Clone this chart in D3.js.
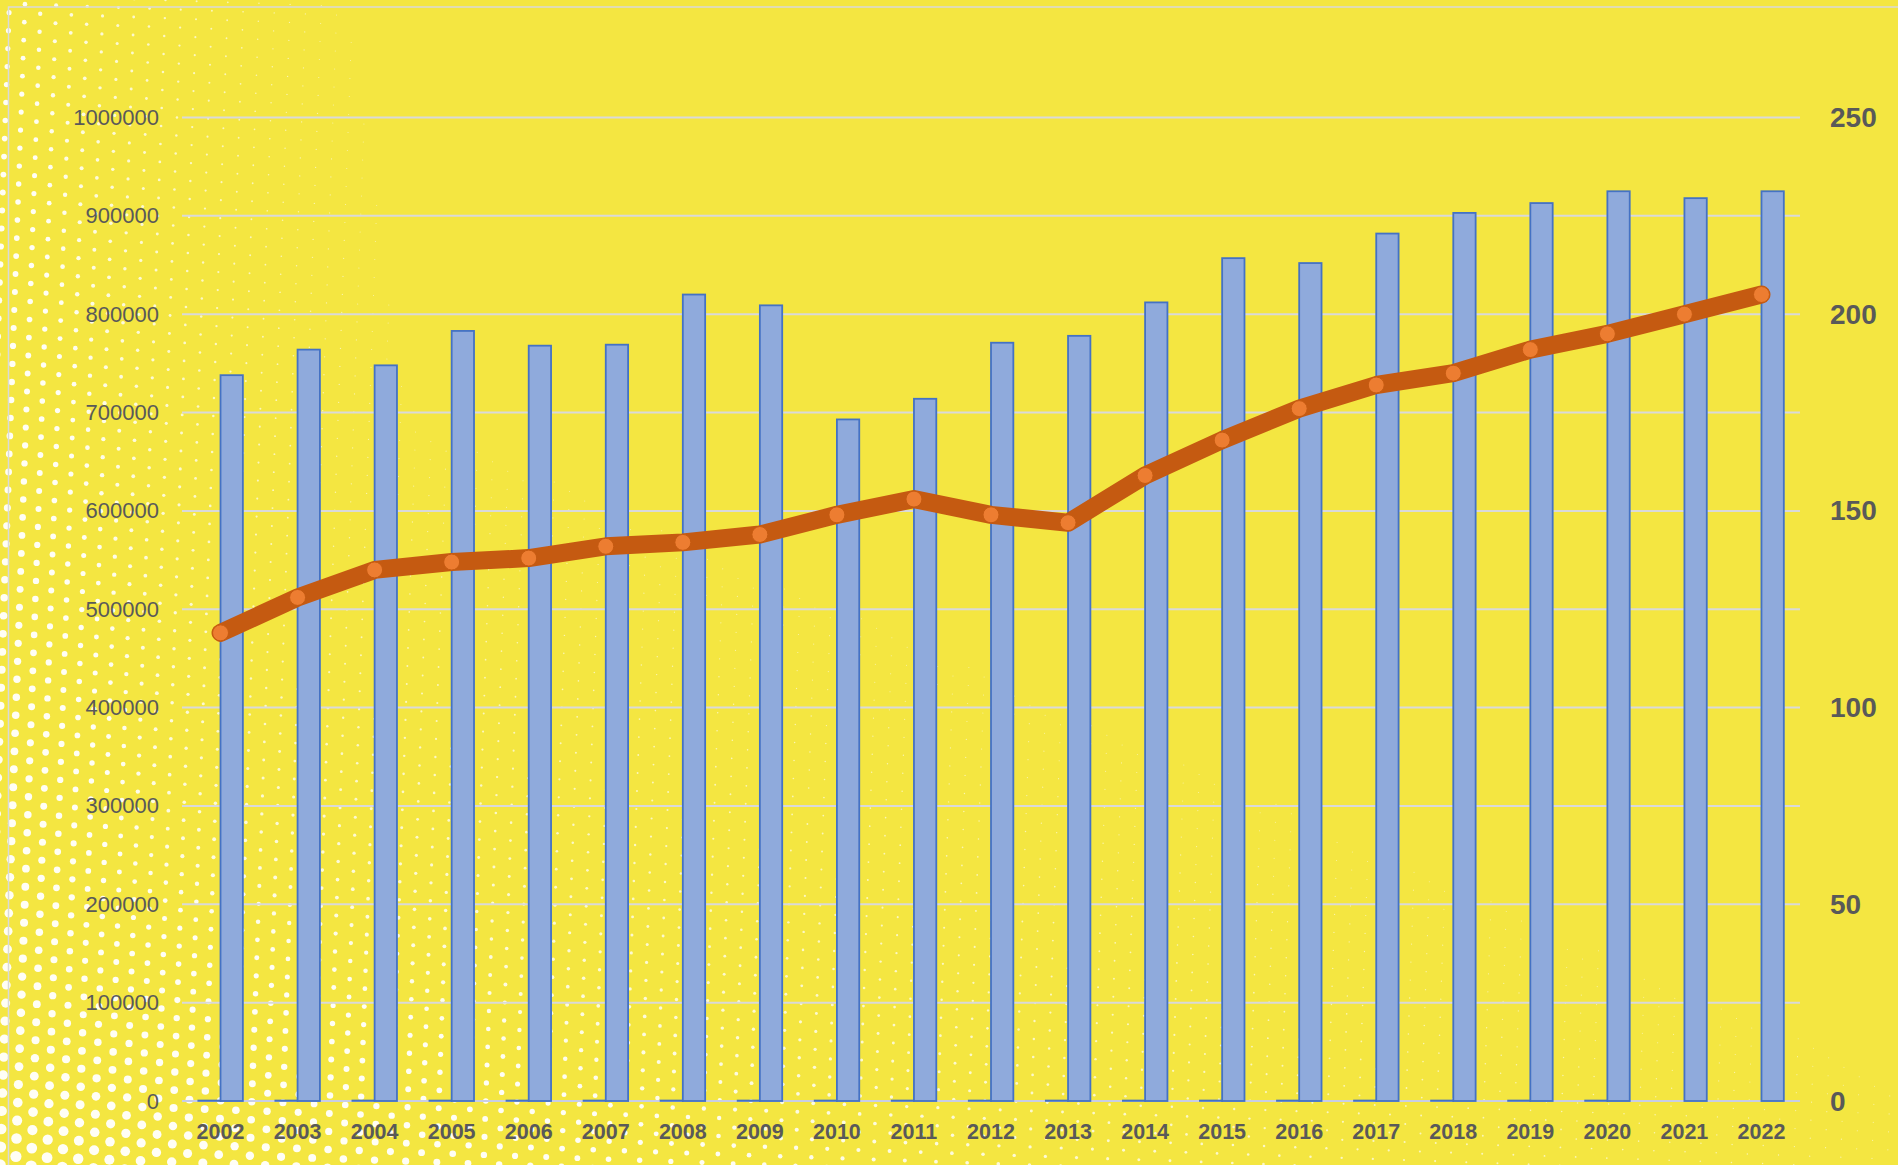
<!DOCTYPE html>
<html>
<head>
<meta charset="utf-8">
<script src="https://cdn.jsdelivr.net/npm/d3@7"></script>
<style>
  html, body { margin: 0; padding: 0; background: #f4e641; overflow: hidden; }
  text { font-family: 'Liberation Sans', Arial, sans-serif; fill: #595959; }
</style>
</head>
<body>
<svg id="viz"></svg>
<script>
const width = 1898
const height = 1165

// data
const years = ['2002', '2003', '2004', '2005', '2006', '2007', '2008', '2009', '2010', '2011',
  '2012', '2013', '2014', '2015', '2016', '2017', '2018', '2019', '2020', '2021', '2022']
const mainValues = [738000, 764000, 748000, 783000, 768000, 769000, 820000, 809000, 693000, 714000,
  771000, 778000, 812000, 857000, 852000, 882000, 903000, 913000, 925000, 918000, 925000]
// second column series, almost zero (just a line on the baseline)
const smallValues = [600, 600, 600, 600, 600, 600, 600, 600, 600, 600,
  600, 600, 600, 600, 600, 600, 600, 600, 600, null, null]
const lineValues = [119, 128, 135, 137, 138, 141, 142, 144, 149, 153,
  149, 147, 159, 168, 176, 182, 185, 191, 195, 200, 205]
const leftTicks = [0, 100000, 200000, 300000, 400000, 500000, 600000, 700000, 800000, 900000, 1000000]
const rightTicks = [0, 50, 100, 150, 200, 250]

const margin = { top: 117.5, left: 182, right: 98, bottom: 64 }

const svg = d3.select('#viz').attr('width', width).attr('height', height)

// halftone dot background (decoration only), rotated hex grid
const dots = svg.append('g').attr('class', 'dots')
const step = 18
const rowH = step * 0.866
const ang = (28 * Math.PI) / 180
const dotData = []
for (let j = -80; j < 100; j++) {
  for (let i = -80; i < 160; i++) {
    const u = i * step + (j % 2 ? step / 2 : 0)
    const v = j * rowH
    const x = u * Math.cos(ang) - v * Math.sin(ang)
    const y = height - (u * Math.sin(ang) + v * Math.cos(ang))
    if (x < -10 || x > width + 10 || y < -10 || y > height + 10) continue
    const r1 = (2.6 + 2.4 * (y / height)) * Math.exp(-x / 210)
    const r2 = 5.8 * Math.exp(-(height - y) / 380) * Math.exp(-x / 850)
    const r = Math.max(r1, r2)
    if (r > 0.5) dotData.push({ x, y, r })
  }
}
dots.selectAll('circle')
  .data(dotData)
  .join('circle')
  .attr('cx', (d) => d.x)
  .attr('cy', (d) => d.y)
  .attr('r', (d) => d.r)
  .attr('fill', '#ffffff')
  .attr('opacity', (d) => Math.min(0.95, 0.45 + d.r / 5))

// chart border
svg.append('rect')
  .attr('x', 8.5).attr('y', 7)
  .attr('width', width).attr('height', height)
  .attr('fill', 'none')
  .attr('stroke', '#d9d9d9')
  .attr('stroke-width', 1.5)

const x = d3.scaleBand()
  .domain(years)
  .range([margin.left, width - margin.right])
  .padding(0)

const x1 = d3.scaleBand()
  .domain(['small', 'main'])
  .range([x.bandwidth() * 0.21, x.bandwidth() * 0.79])

const yLeft = d3.scaleLinear().domain([0, 1000000]).range([1101, margin.top])
const yRight = d3.scaleLinear().domain([0, 250]).range([1101, margin.top])

// gridlines
svg.append('g')
  .selectAll('line')
  .data(leftTicks)
  .join('line')
  .attr('x1', margin.left)
  .attr('x2', width - margin.right)
  .attr('y1', (d) => yLeft(d))
  .attr('y2', (d) => yLeft(d))
  .attr('stroke', (d) => (d === 0 ? '#c8cde6' : '#d9d9d9'))
  .attr('stroke-width', 2)

// left axis labels
svg.append('g')
  .selectAll('text')
  .data(leftTicks)
  .join('text')
  .attr('x', 159)
  .attr('y', (d) => yLeft(d))
  .attr('text-anchor', 'end')
  .attr('dominant-baseline', 'central')
  .attr('font-size', 22)
  .text((d) => d3.format('d')(d))

// right axis labels
svg.append('g')
  .selectAll('text')
  .data(rightTicks)
  .join('text')
  .attr('x', 1830)
  .attr('y', (d) => yRight(d))
  .attr('text-anchor', 'start')
  .attr('dominant-baseline', 'central')
  .attr('font-size', 28)
  .attr('font-weight', 'bold')
  .text((d) => d)

// x labels
svg.append('g')
  .selectAll('text')
  .data(years)
  .join('text')
  .attr('x', (d) => x(d) + x.bandwidth() / 2)
  .attr('y', 1132)
  .attr('text-anchor', 'middle')
  .attr('dominant-baseline', 'central')
  .attr('font-size', 21.5)
  .attr('font-weight', 'bold')
  .text((d) => d)

// small column series
svg.append('g')
  .selectAll('rect')
  .data(years.map((d, i) => ({ year: d, v: smallValues[i] })).filter((d) => d.v != null))
  .join('rect')
  .attr('x', (d) => x(d.year) + x1('small'))
  .attr('width', x1.bandwidth())
  .attr('y', (d) => yLeft(d.v))
  .attr('height', (d) => yLeft(0) - yLeft(d.v))
  .attr('fill', '#8faadc')
  .attr('stroke', '#4472c4')
  .attr('stroke-width', 1.5)

// main column series
svg.append('g')
  .selectAll('rect')
  .data(years.map((d, i) => ({ year: d, v: mainValues[i] })))
  .join('rect')
  .attr('x', (d) => x(d.year) + x1('main'))
  .attr('width', x1.bandwidth())
  .attr('y', (d) => yLeft(d.v))
  .attr('height', (d) => yLeft(0) - yLeft(d.v))
  .attr('fill', '#8faadc')
  .attr('stroke', '#4472c4')
  .attr('stroke-width', 1.8)

// line on secondary axis
const lineData = years.map((d, i) => ({ year: d, v: lineValues[i] }))
const line = d3.line()
  .x((d) => x(d.year) + x.bandwidth() / 2)
  .y((d) => yRight(d.v))

svg.append('path')
  .datum(lineData)
  .attr('d', line)
  .attr('fill', 'none')
  .attr('stroke', '#c55a11')
  .attr('stroke-width', 18)
  .attr('stroke-linejoin', 'round')
  .attr('stroke-linecap', 'round')

svg.append('g')
  .selectAll('circle')
  .data(lineData)
  .join('circle')
  .attr('cx', (d) => x(d.year) + x.bandwidth() / 2)
  .attr('cy', (d) => yRight(d.v))
  .attr('r', 8)
  .attr('fill', '#ed7d31')
  .attr('stroke', '#c55a11')
  .attr('stroke-width', 1)
</script>
</body>
</html>
